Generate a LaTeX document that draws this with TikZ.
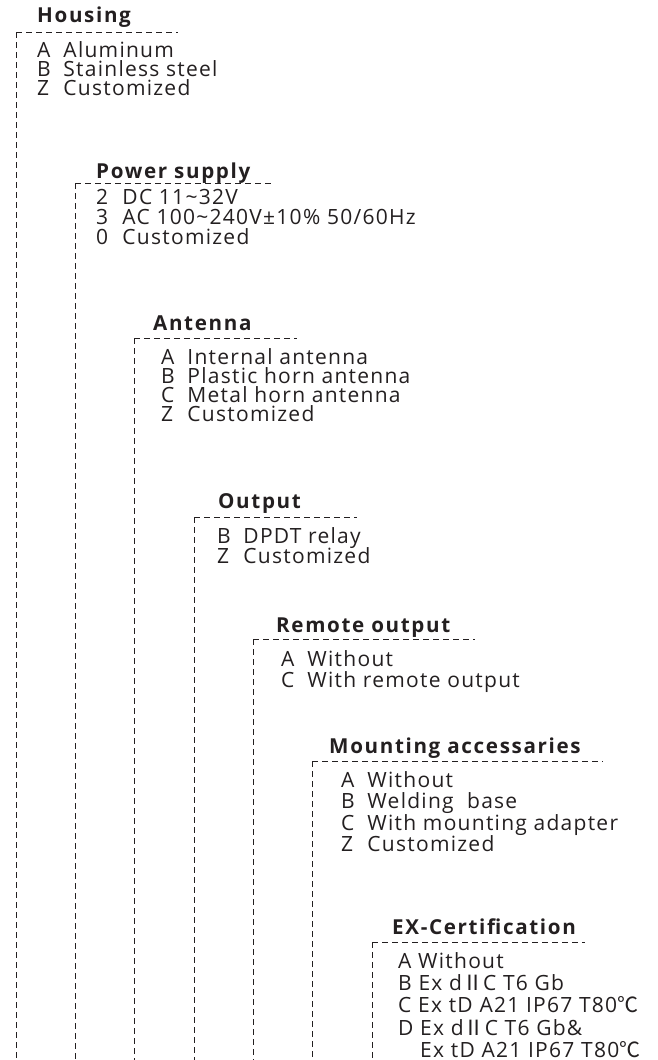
\documentclass[tikz,border=0pt]{standalone}
\usepackage{fontspec}
\setmainfont{Open Sans}[LetterSpace=6]
\newfontfamily\cjkfont{Noto Sans CJK SC}
\usetikzlibrary{positioning}
\definecolor{Ink}{HTML}{231F20}
\tikzset{
  guide/.style={draw=Ink, line width=0.9pt, dash pattern=on 6pt off 4pt},
  heading/.style={font=\fontsize{20.6}{22}\selectfont\bfseries\addfontfeature{LetterSpace=8}, text=Ink, anchor=base west, inner sep=0pt},
  entry/.style={font=\fontsize{21}{22}\selectfont, text=Ink, anchor=base west, inner sep=0pt},
}
\newcommand{\code}[1]{\makebox[1.25em][l]{#1}}
\newcommand{\romantwo}{{\cjkfont Ⅱ}}
\newcommand{\celsius}{{\cjkfont ℃}}

\begin{document}
\begin{tikzpicture}[x=1pt,y=-1pt]
    \useasboundingbox (0,0) rectangle (657,1060);
    % one bracket per option group: corner x / corner y / end of top line
    \foreach \n/\x/\y/\e in {housing/16/32/178, power/75/183/273, antenna/134/338/297, output/194/517/357, remote/253/639/475, mount/312/761/603, ex/372/942/585}{
        \coordinate (\n-corner) at (\x,\y);
        \coordinate (\n-end) at (\e,\y);
        \coordinate (\n-foot) at (\x,1060);
        \draw[guide] (\n-corner) -- (\n-end);
        \draw[guide] (\n-corner) -- (\n-foot);
    }

    \node[heading] (housing) at (37,22) {Housing};
    \node[heading] (power) at (96,178) {Power\ supply};
    \node[heading] (antenna) at (153,330) {Antenna};
    \node[heading] (output) at (218,508) {Output};
    \node[heading] (remote) at (276,632) {Remote output};
    \node[heading] (mount) at (329,753) {Mounting accessaries};
    \node[heading] (ex) at (392,934) {EX-Certification};

    \foreach \c/\t [count=\k] in {A/Aluminum, B/Stainless steel, Z/Customized}
        \node[entry] (housing-\k) at (37,{57+19*(\k-1)}) {\code{\c}\t};
    \foreach \c/\t [count=\k] in {2/{DC 11\textasciitilde32V}, 3/{AC 100\textasciitilde240V±10\% 50/60Hz}, 0/Customized}
        \node[entry] (power-\k) at (96,{204+20*(\k-1)}) {\code{\c}\t};
    \foreach \c/\t [count=\k] in {A/Internal antenna, B/Plastic horn antenna, C/Metal horn antenna, Z/Customized}
        \node[entry] (antenna-\k) at (161,{364+19*(\k-1)}) {\code{\c}\t};
    \foreach \c/\t [count=\k] in {B/DPDT relay, Z/Customized}
        \node[entry] (output-\k) at (217,{543+20*(\k-1)}) {\code{\c}\t};
    \foreach \c/\t [count=\k] in {A/Without, C/With remote output}
        \node[entry] (remote-\k) at (281,{666+21*(\k-1)}) {\code{\c}\t};
    \foreach \c/\t [count=\k] in {A/Without, B/Welding\ \ base, C/With mounting adapter, Z/Customized}
        \node[entry] (mount-\k) at (341,{787+21.6*(\k-1)}) {\code{\c}\t};

    \node[entry] (ex-1) at (398,968) {A Without};
    \node[entry] (ex-2) at (398,990) {B Ex d\romantwo C T6 Gb};
    \node[entry] (ex-3) at (398,1012) {C Ex tD A21 IP67 T80\celsius};
    \node[entry] (ex-4) at (398,1035) {D Ex d\romantwo C T6 Gb\&};
    \node[entry] (ex-5) at (398,1057) {\phantom{D }Ex tD A21 IP67 T80\celsius};
\end{tikzpicture}
\end{document}
